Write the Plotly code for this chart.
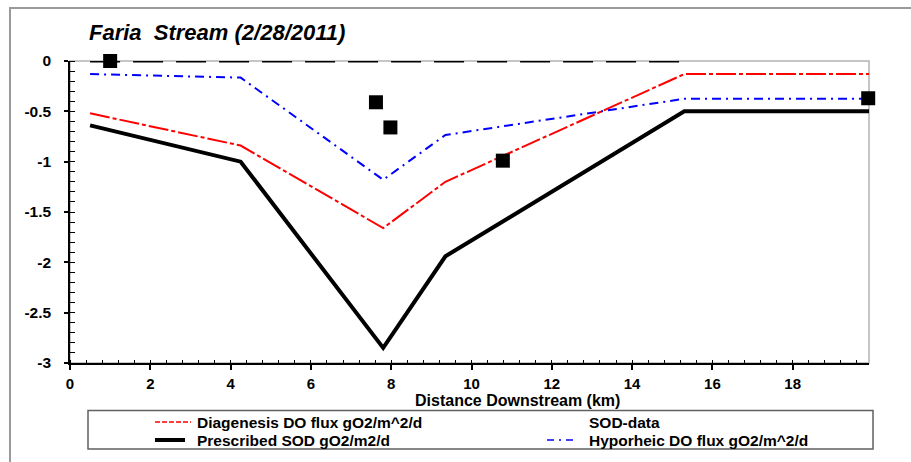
import plotly.graph_objects as go

# ---------------- data ----------------
dist_model = [0.5, 4.25, 7.8, 9.35, 15.3, 19.9]
prescribed_sod = [-0.64, -1.0, -2.85, -1.94, -0.5, -0.5]
diagenesis_flux = [-0.52, -0.84, -1.66, -1.2, -0.13, -0.13]
hyporheic_flux = [-0.13, -0.165, -1.18, -0.735, -0.375, -0.375]

zero_line_x = [0.5, 15.35]
zero_line_y = [0, 0]

sod_data_x = [1.0, 7.62, 7.98, 10.78, 19.88]
sod_data_y = [0.0, -0.41, -0.66, -0.99, -0.37]

y_tickvals = [0, -0.5, -1, -1.5, -2, -2.5, -3]
y_ticktext = ["0", "-0.5", "-1", "-1.5", "-2", "-2.5", "-3"]
x_tickvals = [0, 2, 4, 6, 8, 10, 12, 14, 16, 18]
x_ticktext = ["0", "2", "4", "6", "8", "10", "12", "14", "16", "18"]

legend_labels = ["Diagenesis DO flux gO2/m^2/d", "SOD-data",
                 "Prescribed SOD gO2/m2/d", "Hyporheic DO flux gO2/m^2/d"]
title_text = "Faria  Stream (2/28/2011)"
xaxis_title = "Distance Downstream (km)"

# ---------------- layout helpers ----------------
W, H = 911, 462
L, R, T, B = 70, 869, 61, 363


def px(x):
    return (x - L) / (R - L)


def py(y):
    return (B - y) / (B - T)


FONT = "Liberation Sans, Arial, sans-serif"

fig = go.Figure()

fig.add_trace(go.Scatter(x=zero_line_x, y=zero_line_y, mode="lines",
                         line=dict(color="black", width=3, dash="30px,13px"),
                         showlegend=False, hoverinfo="skip"))
fig.add_trace(go.Scatter(x=dist_model, y=prescribed_sod, mode="lines",
                         line=dict(color="black", width=4),
                         name=legend_labels[2], showlegend=False))
fig.add_trace(go.Scatter(x=dist_model, y=diagenesis_flux, mode="lines",
                         line=dict(color="#ff0000", width=2, dash="20px,3px,4px,3px"),
                         name=legend_labels[0], showlegend=False))
fig.add_trace(go.Scatter(x=dist_model, y=hyporheic_flux, mode="lines",
                         line=dict(color="#0000ff", width=2, dash="9px,5px,2px,5px"),
                         name=legend_labels[3], showlegend=False))
fig.add_trace(go.Scatter(x=sod_data_x, y=sod_data_y, mode="markers",
                         marker=dict(symbol="square", size=14, color="black",
                                     line=dict(width=0)),
                         name=legend_labels[1], showlegend=False, cliponaxis=False))

shapes = []
# outer chart border (top & left visible)
shapes.append(dict(type="rect", xref="paper", yref="paper",
                   x0=px(10), x1=px(925), y0=py(8), y1=py(475),
                   line=dict(color="#9a9a9a", width=2), layer="below"))
# plot frame (gray top/right)
shapes.append(dict(type="rect", xref="paper", yref="paper",
                   x0=0, x1=1, y0=0, y1=1,
                   line=dict(color="#b4b4b4", width=1.5), layer="below"))
# legend box
shapes.append(dict(type="rect", xref="paper", yref="paper",
                   x0=px(88), x1=px(873), y0=py(449), y1=py(410.5),
                   line=dict(color="#606060", width=1.5)))
# legend symbols
row1, row2 = 422, 440
shapes.append(dict(type="line", xref="paper", yref="paper",
                   x0=px(155), x1=px(191), y0=py(row1), y1=py(row1),
                   line=dict(color="#ff0000", width=1.5, dash="5px,2px")))
shapes.append(dict(type="line", xref="paper", yref="paper",
                   x0=px(155), x1=px(185), y0=py(row2), y1=py(row2),
                   line=dict(color="black", width=4)))
shapes.append(dict(type="line", xref="paper", yref="paper",
                   x0=px(547), x1=px(578), y0=py(row2), y1=py(row2),
                   line=dict(color="#0000ff", width=1.5, dash="7px,5px,2px,5px")))

annotations = []
annotations.append(dict(text=title_text.replace("  ", "&nbsp; "), xref="paper", yref="paper",
                        x=px(87), y=py(32), xanchor="left", yanchor="middle",
                        showarrow=False,
                        font=dict(family=FONT, size=22, color="black",
                                  weight="bold", style="italic")))
annotations.append(dict(text=xaxis_title, xref="paper", yref="paper",
                        x=px(517), y=py(400), xanchor="center", yanchor="middle",
                        showarrow=False,
                        font=dict(family=FONT, size=16, color="black", weight="bold")))
legend_pos = [(195, row1), (587, row1), (195, row2), (587, row2)]
for lab, (lx, ly) in zip(legend_labels, legend_pos):
    annotations.append(dict(text=lab, xref="paper", yref="paper",
                            x=px(lx), y=py(ly), xanchor="left", yanchor="middle",
                            showarrow=False,
                            font=dict(family=FONT, size=15.5, color="black", weight="bold")))

fig.update_layout(
    width=W, height=H,
    margin=dict(l=L, r=W - R, t=T, b=H - B, pad=0),
    paper_bgcolor="white", plot_bgcolor="white",
    showlegend=False,
    shapes=shapes, annotations=annotations,
    xaxis=dict(range=[0, 19.9], tickvals=x_tickvals, ticktext=x_ticktext,
               showgrid=False, zeroline=False, showline=True,
               linecolor="black", linewidth=1.5,
               ticks="outside", ticklen=5, tickwidth=1.5, tickcolor="black",
               ticklabelstandoff=1,
               minor=dict(ticks="inside", dtick=0.4, tick0=0, ticklen=3,
                          tickcolor="black", tickwidth=1, showgrid=False),
               tickfont=dict(family=FONT, size=15, color="black", weight="bold")),
    yaxis=dict(range=[-3, 0], tickvals=y_tickvals, ticktext=y_ticktext,
               showgrid=False, zeroline=False, showline=True,
               linecolor="black", linewidth=1.5,
               ticks="outside", ticklen=4, tickwidth=1.5, tickcolor="black",
               ticklabelstandoff=10,
               minor=dict(ticks="inside", dtick=0.1, tick0=0, ticklen=5,
                          tickcolor="black", tickwidth=1, showgrid=False),
               tickfont=dict(family=FONT, size=15.5, color="black", weight="bold")),
)

fig.write_html("out.html")
